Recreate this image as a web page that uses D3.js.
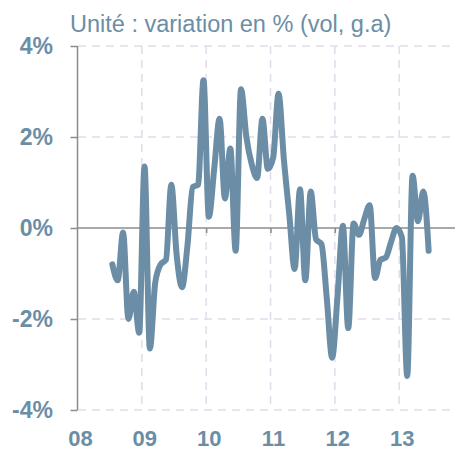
<!DOCTYPE html>
<html>
<head>
<meta charset="utf-8">
<script src="https://cdn.jsdelivr.net/npm/d3@7"></script>
<style>
  body { margin: 0; background: #fff; }
  svg { display: block; }
  text { font-family: "Liberation Sans", Arial, sans-serif; }
</style>
</head>
<body>
<div id="chart"></div>
<script>
// monthly series, jul 2008 -> jun 2013
var startYear = 2008, startMonth = 6
var values = [
  -0.8, -1.15, -0.1, -2.0, -1.4, -2.3,
  1.35, -2.65, -1.2, -0.8, -0.7, 0.95, -0.6, -1.3, -0.4, 0.9, 0.95, 3.25,
  0.25, 1.3, 2.4, 0.65, 1.75, -0.5, 3.05, 2.0, 1.4, 1.1, 2.4, 1.3,
  1.55, 2.95, 1.5, 0.3, -0.9, 0.85, -1.15, 0.8, -0.25, -0.35, -1.55, -2.85,
  -1.5, 0.05, -2.2, 0.1, -0.15, 0.2, 0.5, -1.1, -0.7, -0.65, -0.3, 0.0,
  -0.2, -3.25, 1.15, 0.15, 0.8, -0.5
]
var yearTicks = [2008, 2009, 2010, 2011, 2012, 2013]
var yearLabels = ["08", "09", "10", "11", "12", "13"]
var yTicks = [4, 2, 0, -2, -4]
var yLabels = ["4%", "2%", "0%", "-2%", "-4%"]
var title = "Unité : variation en % (vol, g.a)"

var W = 455, H = 452
var blue = "#6b8ea6"
var grid = "#e2dbec"
var axisCol = "#8c8c8c"

var svg = d3.select("#chart").append("svg")
    .attr("width", W).attr("height", H)

var x = d3.scaleLinear().domain([2008, 2014]).range([77.5, 463.5])
var y = d3.scaleLinear().domain([-4, 4]).range([410, 46])

var data = values.map((v, i) => ({ t: startYear + (startMonth + i + 0.5) / 12, v: v }))

// horizontal grid (not zero)
svg.append("g").selectAll("line")
    .data(yTicks.filter(d => d != 0))
    .join("line")
    .attr("x1", 78).attr("x2", W)
    .attr("y1", d => y(d)).attr("y2", d => y(d))
    .attr("stroke", grid).attr("stroke-width", 1.5)
    .attr("stroke-dasharray", "8,6")

// vertical grid
svg.append("g").selectAll("line")
    .data(yearTicks.slice(1))
    .join("line")
    .attr("x1", d => x(d)).attr("x2", d => x(d))
    .attr("y1", y(4)).attr("y2", y(-4))
    .attr("stroke", grid).attr("stroke-width", 1.5)
    .attr("stroke-dasharray", "8,6")

// y axis
var yAxis = svg.append("g")
    .attr("transform", "translate(" + x(2008) + ",0)")
    .call(d3.axisLeft(y).tickValues(yTicks).tickSize(7).tickFormat(""))
yAxis.select(".domain").attr("stroke", axisCol).attr("stroke-width", 1.5)
    .attr("d", "M0," + y(4) + "V" + y(-4))
yAxis.selectAll(".tick line").attr("stroke", axisCol).attr("stroke-width", 1.5)

// zero line with year ticks
var xAxis = svg.append("g")
    .attr("transform", "translate(0," + y(0) + ")")
    .call(d3.axisBottom(x).tickValues(yearTicks.slice(1)).tickSize(5).tickFormat(""))
xAxis.select(".domain").attr("stroke", axisCol).attr("stroke-width", 1.5)
    .attr("d", "M" + x(2008) + ",0H" + W)
xAxis.selectAll(".tick line").attr("stroke", axisCol).attr("stroke-width", 1.5)

// series
var line = d3.line()
    .x(d => x(d.t))
    .y(d => y(d.v))
    .curve(d3.curveMonotoneX)

svg.append("path")
    .datum(data)
    .attr("d", line)
    .attr("fill", "none")
    .attr("stroke", blue)
    .attr("stroke-width", 6)
    .attr("stroke-linejoin", "round")
    .attr("stroke-linecap", "round")

// labels
svg.append("g").selectAll("text")
    .data(yTicks)
    .join("text")
    .attr("x", 53).attr("y", d => y(d))
    .attr("dy", "0.36em")
    .attr("text-anchor", "end")
    .attr("fill", blue)
    .style("font-size", "23px").style("font-weight", "bold")
    .text((d, i) => yLabels[i])

// year labels are clipped by the bottom edge in the original, keep them just inside
svg.append("g").selectAll("text")
    .data(yearTicks)
    .join("text")
    .attr("x", d => x(d) + 3).attr("y", 446)
    .attr("text-anchor", "middle")
    .attr("fill", blue)
    .style("font-size", "22px").style("font-weight", "bold")
    .text((d, i) => yearLabels[i])

svg.append("text")
    .attr("x", 70).attr("y", 32)
    .attr("fill", blue)
    .style("font-size", "23.5px")
    .text(title)
</script>
</body>
</html>
